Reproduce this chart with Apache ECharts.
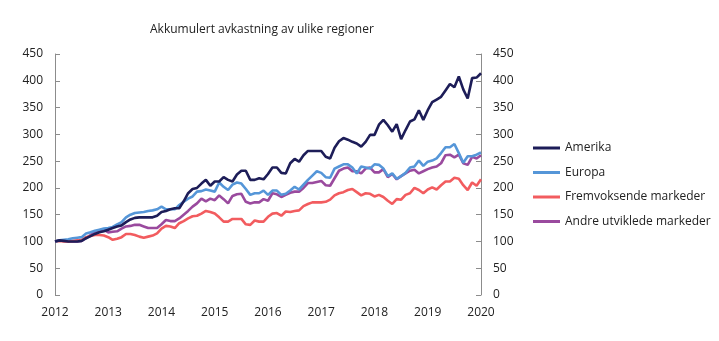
<!DOCTYPE html>
<html>
<head>
<meta charset="utf-8">
<script src="https://cdn.jsdelivr.net/npm/echarts@6/dist/echarts.min.js"></script>
<style>html,body{margin:0;padding:0;background:#fff}#c{width:719px;height:341px}</style>
</head>
<body>
<div id="c"></div>
<script>
var title = 'Akkumulert avkastning av ulike regioner';
var seriesNames = ['Amerika', 'Europa', 'Fremvoksende markeder', 'Andre utviklede markeder'];
var yearLabels = ['2012','2013','2014','2015','2016','2017','2018','2019','2020'];
var yTicks = [0, 50, 100, 150, 200, 250, 300, 350, 400, 450];

var amerika = [100,102,101,100,100,100,101,106,110,114,117,119,
  122,125,128,130,136,141,144,145,145,145,145,148,
  155,157,160,162,162,175,190,198,200,208,215,204,
  212,212,220,215,212,225,232,232,215,215,218,216,
  226,238,238,228,227,246,254,249,261,269,269,269,
  269,258,255,275,287,293,290,286,283,277,286,299,
  299,318,327,317,305,319,291,308,324,328,345,327,
  345,360,365,370,382,394,388,408,384,367,405,406,
  414];
var europa = [100,102,103,104,106,107,108,115,117,120,122,124,
  125,127,132,136,145,150,153,154,155,157,158,160,
  165,160,160,160,168,174,180,184,193,194,197,195,
  193,210,202,196,206,210,208,198,187,190,190,195,
  187,195,195,187,189,195,202,197,206,215,223,231,
  228,220,219,236,240,244,244,238,227,240,238,236,
  244,243,236,222,227,217,222,228,238,240,251,241,
  249,251,255,265,276,276,282,265,247,259,259,262,
  266];
var fremvoksende = [100,101,100,100,101,102,103,108,110,112,112,111,
  108,103,105,108,114,114,112,109,107,109,111,115,
  124,129,128,125,134,138,143,147,148,152,157,155,
  152,145,137,137,142,142,142,132,131,139,137,137,
  146,152,153,148,156,155,157,158,166,170,173,173,
  173,174,178,186,190,192,196,198,192,186,190,189,
  184,187,183,176,170,179,178,187,190,200,196,190,
  197,201,197,205,212,212,219,217,205,196,210,204,
  216];
var andre = [100,102,101,100,100,100,101,106,112,118,121,122,
  117,118,119,124,128,129,131,131,128,125,125,125,
  132,140,138,138,143,150,157,165,171,180,175,180,
  177,186,179,171,185,188,189,174,171,173,173,179,
  176,190,188,183,187,191,193,193,200,209,209,211,
  213,205,204,218,232,236,238,231,231,227,236,238,
  229,229,235,220,226,216,222,227,232,234,227,231,
  235,238,240,246,261,262,257,262,246,243,258,255,
  261];

var colors = ['#1d1d58', '#5596d8', '#f25c5f', '#9a4a9e'];

var months = [];
for (var y = 0; y < yearLabels.length - 1; y++) {
  for (var m = 1; m <= 12; m++) months.push(yearLabels[y] + '-' + (m < 10 ? '0' + m : m));
}
months.push(yearLabels[yearLabels.length - 1] + '-01');

var font = 'Open Sans';
var data = [amerika, europa, fremvoksende, andre];
var series = seriesNames.map(function (n, i) {
  return {
    name: n, type: 'line', data: data[i], showSymbol: false, symbol: 'none',
    lineStyle: { width: 2.6, color: colors[i] }, itemStyle: { color: colors[i] },
    z: 10 - i, animation: false
  };
});

var yAxisCommon = {
  type: 'value', min: 0, max: 450, interval: 50,
  axisLine: { show: true, lineStyle: { color: '#8c8c8c', width: 1 } },
  axisTick: { show: true, inside: true, length: 5, lineStyle: { color: '#8c8c8c' } },
  splitLine: { show: false },
  axisLabel: { color: '#222', fontFamily: font, fontSize: 12, margin: 12 }
};

var chart = echarts.init(document.getElementById('c'), null, { renderer: 'canvas' });
chart.setOption({
  animation: false,
  backgroundColor: '#fff',
  title: { text: title, left: 145, top: 19, textStyle: { fontFamily: font, fontSize: 12, fontWeight: 'normal', color: '#222' } },
  grid: { left: 55, right: 238, top: 54, bottom: 46, containLabel: false },
  legend: {
    orient: 'vertical', left: 528, top: 137, itemWidth: 27, itemHeight: 3, itemGap: 12.5,
    icon: 'rect',
    textStyle: { fontFamily: font, fontSize: 12, color: '#222' },
    data: seriesNames
  },
  xAxis: {
    type: 'category', data: months, boundaryGap: false,
    axisLine: { show: false }, axisTick: { show: false },
    axisLabel: {
      interval: 11, color: '#222', fontFamily: font, fontSize: 12, margin: 12,
      formatter: function (v) { return v.slice(0, 4); }
    }
  },
  yAxis: [
    Object.assign({}, yAxisCommon, { position: 'left' }),
    Object.assign({}, yAxisCommon, { position: 'right' })
  ],
  series: series
});
</script>
</body>
</html>
